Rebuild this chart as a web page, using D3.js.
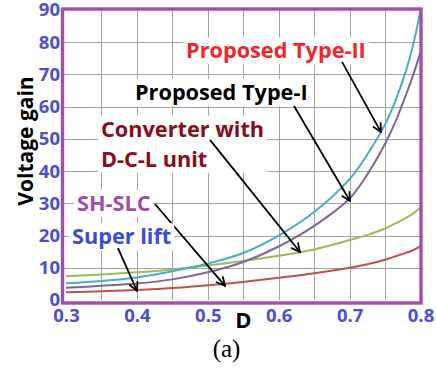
<!DOCTYPE html>
<html>
<head>
<meta charset="utf-8">
<script src="https://cdn.jsdelivr.net/npm/d3@7"></script>
<style>
  html, body { margin: 0; padding: 0; background: #ffffff; }
  svg { display: block; }
</style>
</head>
<body>
<svg id="chart" width="436" height="370"></svg>
<script>
// Duty cycle samples (denser near D = 0.8 where the gains climb steeply)
const dutyCycle = [0.30, 0.35, 0.40, 0.45, 0.50, 0.55, 0.60, 0.65, 0.70, 0.725, 0.75, 0.765, 0.78, 0.79, 0.80];

// Voltage gain of each converter at those duty cycles
const gainSuperLift = [2.4, 2.7, 3.1, 3.7, 4.6, 5.6, 6.9, 8.3, 10.0, 11.1, 12.5, 13.6, 14.7, 15.5, 16.7];
const gainDCLUnit   = [7.4, 7.9, 8.6, 9.5, 10.7, 12.1, 13.7, 15.7, 18.6, 20.2, 22.2, 23.8, 25.6, 26.9, 28.6];
const gainTypeI     = [3.8, 4.4, 5.1, 6.4, 8.6, 11.8, 16.6, 23.0, 31.5, 39.0, 48.5, 55.5, 64.0, 70.0, 77.0];
const gainTypeII    = [5.2, 5.9, 7.0, 8.9, 11.3, 14.6, 20.0, 27.3, 37.5, 45.2, 54.5, 62.0, 71.5, 79.5, 90.0];

// Axis ticks
const xTickLabels = [0.3, 0.4, 0.5, 0.6, 0.7, 0.8];
const xGridValues = [0.35, 0.40, 0.45, 0.50, 0.55, 0.60, 0.65, 0.70, 0.75];
const yTickLabels = [0, 10, 20, 30, 40, 50, 60, 70, 80, 90];

const series = [
  { name: "Super lift / SH-SLC", values: gainSuperLift, color: "#c0504d" },
  { name: "Converter with D-C-L unit", values: gainDCLUnit, color: "#9bbb59" },
  { name: "Proposed Type-I", values: gainTypeI, color: "#8064a2" },
  { name: "Proposed Type-II", values: gainTypeII, color: "#4bacc6" }
];

// Callouts: label anchor, arrow start and arrow tip, all in data units (D, gain)
const callouts = [
  { lines: ["Proposed Type-II"], color: "#f2262b", at: [0.4693, 75.0], from: [0.6893, 73.9], tip: [0.7443, 52.1] },
  { lines: ["Proposed Type-I"], color: "#000000", at: [0.3973, 62.1], from: [0.6216, 60.2], tip: [0.7006, 30.7] },
  { lines: ["Converter with", "D-C-L unit"], color: "#8b0a1c", at: [0.3494, 50.7], from: [0.5031, 49.7], tip: [0.6300, 14.9] },
  { lines: ["SH-SLC"], color: "#a24ca8", at: [0.3155, 27.6], from: [0.4255, 29.8], tip: [0.5243, 4.4] },
  { lines: ["Super lift"], color: "#3b4bd6", at: [0.3085, 17.3], from: [0.3733, 16.1], tip: [0.4001, 2.8] }
];

const FONT = "'Open Sans', 'DejaVu Sans', sans-serif";
const svg = d3.select("#chart");

const x = d3.scaleLinear().domain([0.3, 0.8]).range([66, 420.5]);
const y = d3.scaleLinear().domain([0, 90]).range([300, 10]);

// Grid
const grid = svg.append("g").attr("stroke", "#a3a3a3").attr("stroke-width", 1);
grid.selectAll("line.v").data(xGridValues).join("line")
  .attr("class", "v")
  .attr("x1", d => Math.round(x(d)) + 0.5).attr("x2", d => Math.round(x(d)) + 0.5)
  .attr("y1", y(90)).attr("y2", y(0));
grid.selectAll("line.h").data(yTickLabels.filter(v => v > 0 && v < 90)).join("line")
  .attr("class", "h")
  .attr("x1", x(0.3) - 3).attr("x2", x(0.8))
  .attr("y1", d => Math.round(y(d)) + 0.5).attr("y2", d => Math.round(y(d)) + 0.5);

// Curves
const line = d3.line()
  .x((d, i) => x(dutyCycle[i]))
  .y(d => y(d))
  .curve(d3.curveCatmullRom.alpha(0.5));

svg.append("g").selectAll("path").data(series).join("path")
  .attr("d", s => line(s.values))
  .attr("fill", "none")
  .attr("stroke", s => s.color)
  .attr("stroke-width", 2)
  .attr("stroke-linejoin", "round");

// Plot frame
svg.append("rect")
  .attr("x", x(0.3) - 3.5)
  .attr("y", y(90) - 1)
  .attr("width", x(0.8) + 0.5 - (x(0.3) - 3.5))
  .attr("height", y(0) + 3 - (y(90) - 1))
  .attr("fill", "none")
  .attr("stroke", "#a24fa8")
  .attr("stroke-width", 3.4);

// Axes
const tickColor = "#4a4fd6";
const yAxis = svg.append("g")
  .attr("transform", `translate(${x(0.3)},0)`)
  .call(d3.axisLeft(y).tickValues(yTickLabels).tickSize(0).tickPadding(6));
const xAxis = svg.append("g")
  .attr("transform", `translate(0,${y(0)})`)
  .call(d3.axisBottom(x).tickValues(xTickLabels).tickSize(0).tickPadding(8.5).tickFormat(d3.format(".1f")));
[yAxis, xAxis].forEach(a => {
  a.select(".domain").remove();
  a.selectAll("text")
    .attr("fill", tickColor)
    .style("font-family", FONT)
    .style("font-weight", "700")
    .style("font-size", "18.5px");
});

// Axis titles
svg.append("text")
  .attr("transform", `translate(33,${141}) rotate(-90)`)
  .attr("text-anchor", "middle")
  .style("font-family", FONT).style("font-weight", "700").style("font-size", "21px")
  .attr("fill", "#000")
  .text("Voltage gain");

svg.append("text")
  .attr("x", 243.5).attr("y", 328)
  .attr("text-anchor", "middle")
  .style("font-family", FONT).style("font-weight", "700").style("font-size", "22px")
  .attr("fill", "#000")
  .text("D");

svg.append("text")
  .attr("x", 226.5).attr("y", 357)
  .attr("text-anchor", "middle")
  .style("font-family", "'Liberation Serif', 'Times New Roman', serif").style("font-size", "25px")
  .attr("fill", "#000")
  .text("(a)");

// Arrowhead
svg.append("defs").append("marker")
  .attr("id", "arrowhead")
  .attr("viewBox", "0 0 10 10")
  .attr("refX", 9).attr("refY", 5)
  .attr("markerWidth", 11).attr("markerHeight", 11)
  .attr("markerUnits", "userSpaceOnUse")
  .attr("orient", "auto")
  .append("path")
  .attr("d", "M1,1 L9,5 L1,9")
  .attr("fill", "none").attr("stroke", "#000").attr("stroke-width", 1.6);

// Callout labels on white boxes, with arrows to their curves
const lineGap = 30;
callouts.forEach(c => {
  const g = svg.append("g");
  const box = g.append("rect").attr("fill", "#ffffff");
  const t = g.append("text")
    .attr("x", x(c.at[0])).attr("y", y(c.at[1]))
    .style("font-family", FONT).style("font-weight", "700").style("font-size", "21.7px")
    .attr("fill", c.color);
  c.lines.forEach((s, i) => {
    t.append("tspan").attr("x", x(c.at[0])).attr("dy", i === 0 ? 0 : lineGap).text(s);
  });
  const bb = t.node().getBBox();
  box.attr("x", bb.x - 3).attr("y", bb.y + 2).attr("width", bb.width + 6).attr("height", bb.height - 2);

  svg.append("line")
    .attr("x1", x(c.from[0])).attr("y1", y(c.from[1]))
    .attr("x2", x(c.tip[0])).attr("y2", y(c.tip[1]))
    .attr("stroke", "#000").attr("stroke-width", 1.8)
    .attr("marker-end", "url(#arrowhead)");
});
</script>
</body>
</html>
